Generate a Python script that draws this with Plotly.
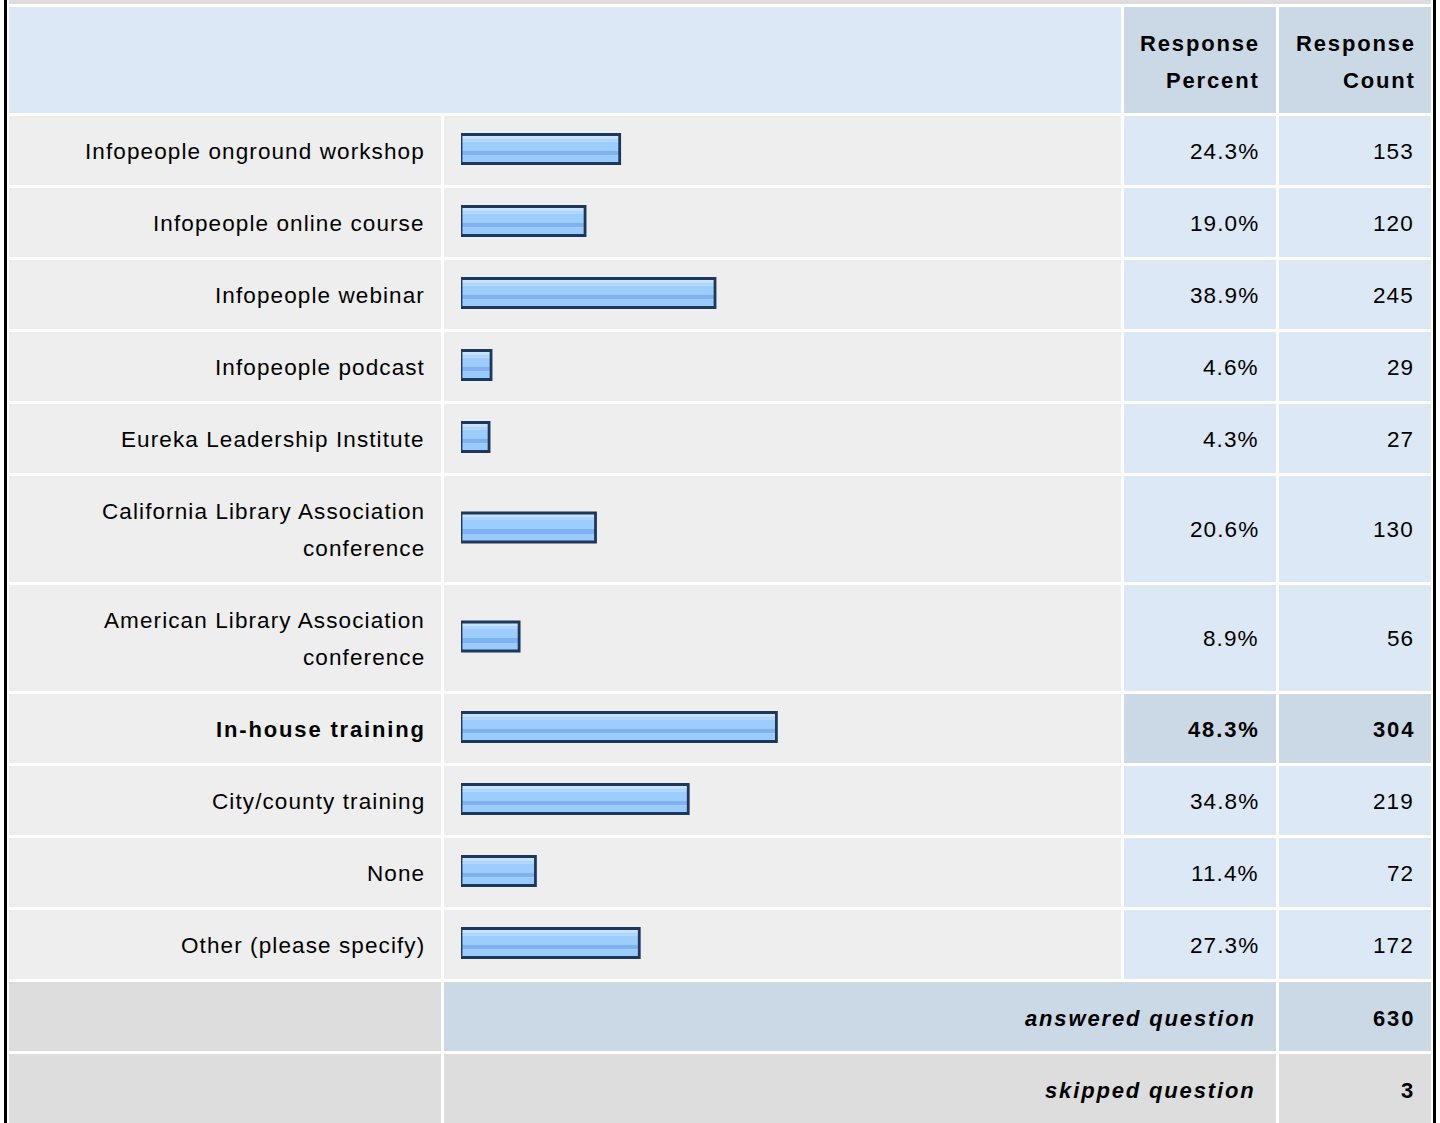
import plotly.graph_objects as go

# survey results
categories = [
    'Infopeople onground workshop',
    'Infopeople online course',
    'Infopeople webinar',
    'Infopeople podcast',
    'Eureka Leadership Institute',
    'California Library Association<br>conference',
    'American Library Association<br>conference',
    'In-house training',
    'City/county training',
    'None',
    'Other (please specify)',
]
percents = [24.3, 19.0, 38.9, 4.6, 4.3, 20.6, 8.9, 48.3, 34.8, 11.4, 27.3]
counts = [153, 120, 245, 29, 27, 130, 56, 304, 219, 72, 172]
col_headers = ['Response<br>Percent', 'Response<br>Count']
answered = 630
skipped = 3

W, H = 1440, 1123
FONT = 'Liberation Sans, Arial, sans-serif'
GAP = 3
HEADER_H = 106
ROW_H = 69
ROW2_H = 106

# column edges in pixels
LABEL_COL = (9, 441)
BAR_COL = (444, 1121)
PCT_COL = (1124, 1276)
CNT_COL = (1279, 1431)

C_HEAD = '#dce8f5'
C_HEAD2 = '#cbd8e6'
C_ROW = '#eeeeee'
C_NUM = '#dce8f5'
C_HILITE = '#cbd8e6'
C_FOOT = '#dddddd'

fig = go.Figure()
shapes = []
annotations = []


def rect(x0, x1, y0, y1, color):
    shapes.append(dict(type='rect', xref='x', yref='y', x0=x0, x1=x1, y0=y0, y1=y1,
                       fillcolor=color, line=dict(width=0), layer='below'))


def txt(x, y, s, bold=False, italic=False, anchor='right'):
    lines = s.split('<br>')
    step = 37
    start = y - step * (len(lines) - 1) / 2
    spacing = 1.85 if bold else 1.1
    for i, line in enumerate(lines):
        t = f'<span style="letter-spacing:{spacing}px">' + line + '</span>'
        if italic:
            t = '<i>' + t + '</i>'
        if bold:
            t = '<b>' + t + '</b>'
        annotations.append(dict(x=x, y=start + i * step, xref='x', yref='y', text=t,
                                showarrow=False, xanchor=anchor, yanchor='middle',
                                xshift=spacing,
                                font=dict(family=FONT, size=22 if bold else 22.5,
                                          color='#000000')))


# outer frame
rect(4, 7, 0, H, '#000000')
rect(1433, 1436, 0, H, '#000000')
rect(LABEL_COL[0], CNT_COL[1], 0, 4, C_FOOT)

# header
y = 7
rect(LABEL_COL[0], BAR_COL[1], y, y + HEADER_H, C_HEAD)
rect(PCT_COL[0], PCT_COL[1], y, y + HEADER_H, C_HEAD2)
rect(CNT_COL[0], CNT_COL[1], y, y + HEADER_H, C_HEAD2)
txt(PCT_COL[1] - 16, y + HEADER_H / 2 + 2, col_headers[0], bold=True)
txt(CNT_COL[1] - 15, y + HEADER_H / 2 + 2, col_headers[1], bold=True)
y += HEADER_H + GAP

top = max(percents)
centers = []
for cat, pct, cnt in zip(categories, percents, counts):
    h = ROW2_H if '<br>' in cat else ROW_H
    hi = pct == top
    rect(LABEL_COL[0], LABEL_COL[1], y, y + h, C_ROW)
    rect(BAR_COL[0], BAR_COL[1], y, y + h, C_ROW)
    rect(PCT_COL[0], PCT_COL[1], y, y + h, C_HILITE if hi else C_NUM)
    rect(CNT_COL[0], CNT_COL[1], y, y + h, C_HILITE if hi else C_NUM)
    c = y + h / 2
    centers.append(c - 1.5)
    txt(LABEL_COL[1] - 15, c + 0.5, cat, bold=hi)
    txt(PCT_COL[1] - 16, c + 0.5, f'{pct:.1f}%', bold=hi)
    txt(CNT_COL[1] - 16, c + 0.5, str(cnt), bold=hi)
    y += h + GAP

# summary rows
rect(LABEL_COL[0], LABEL_COL[1], y, y + ROW_H, C_FOOT)
rect(BAR_COL[0], PCT_COL[1], y, y + ROW_H, C_HILITE)
rect(CNT_COL[0], CNT_COL[1], y, y + ROW_H, C_HILITE)
txt(PCT_COL[1] - 20, y + ROW_H / 2 + 2, 'answered question', bold=True, italic=True)
txt(CNT_COL[1] - 16, y + ROW_H / 2 + 2, str(answered), bold=True)
y += ROW_H + GAP
rect(LABEL_COL[0], LABEL_COL[1], y, y + ROW_H, C_FOOT)
rect(BAR_COL[0], PCT_COL[1], y, y + ROW_H, C_FOOT)
rect(CNT_COL[0], CNT_COL[1], y, y + ROW_H, C_FOOT)
txt(PCT_COL[1] - 20, y + ROW_H / 2 + 2, 'skipped question', bold=True, italic=True)
txt(CNT_COL[1] - 16, y + ROW_H / 2 + 2, str(skipped), bold=True)

# glossy bars: horizontal stripes (offset from bar top, height, colour)
BAR_H = 29
stripes = [
    (0, 4, '#c6e2ff'),
    (4, 3, '#acd6ff'),
    (7, 9, '#9dcdfd'),
    (16, 5, '#7db3f4'),
    (21, 8, '#99cbfd'),
]
for off, hh, col in stripes:
    fig.add_trace(go.Bar(x=percents, y=centers, orientation='h', xaxis='x2', yaxis='y',
                         width=hh, offset=off - BAR_H / 2,
                         marker=dict(color=col, line=dict(width=0)),
                         hoverinfo='skip', showlegend=False))
fig.add_trace(go.Bar(x=percents, y=centers, orientation='h', xaxis='x2', yaxis='y',
                     width=BAR_H, offset=-BAR_H / 2,
                     marker=dict(color='rgba(0,0,0,0)', line=dict(width=2.8, color='#1e375a')),
                     hoverinfo='skip', showlegend=False))

px_per_pct = 6.53
bar_x0 = 461
fig.update_layout(
    width=W, height=H,
    margin=dict(l=0, r=0, t=0, b=0),
    paper_bgcolor='white', plot_bgcolor='rgba(0,0,0,0)',
    barmode='overlay',
    showlegend=False,
    xaxis=dict(range=[0, W], visible=False, fixedrange=True),
    xaxis2=dict(domain=[bar_x0 / W, (bar_x0 + 100 * px_per_pct) / W], range=[0, 100],
                anchor='y', visible=False, fixedrange=True),
    yaxis=dict(range=[H, 0], visible=False, fixedrange=True),
    shapes=shapes,
    annotations=annotations,
)

fig.write_html('out.html', config={'displayModeBar': False},
               post_script="document.body.style.margin='0';")
